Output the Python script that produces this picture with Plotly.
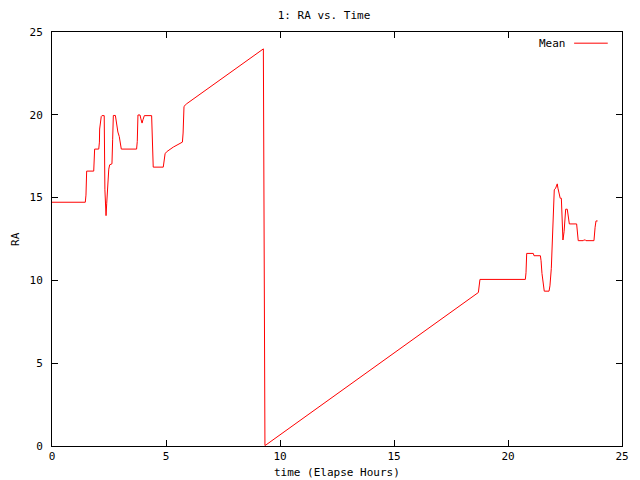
import plotly.graph_objs as go

# tiempo transcurrido (horas) y RA medio
time_h = [0.0, 1.46, 1.49, 1.52, 1.83, 1.84, 1.87, 2.05, 2.08, 2.09, 2.12, 2.16, 2.19, 2.29,
          2.32, 2.37, 2.40, 2.43, 2.46, 2.49, 2.53, 2.63, 2.66, 2.69, 2.78, 2.81, 2.85, 2.89,
          2.95, 3.00, 3.04, 3.71, 3.74, 3.77, 3.86, 3.90, 3.95, 3.99, 4.05, 4.37, 4.40, 4.44,
          4.88, 4.91, 4.96, 5.03, 5.32, 5.72, 5.75, 5.79, 5.91, 9.27, 9.28, 9.31, 9.34,
          9.39, 18.70, 18.77, 20.76, 20.79, 20.82, 21.11, 21.14, 21.42, 21.45, 21.49,
          21.54, 21.59, 21.80, 21.84, 21.90, 21.96, 22.00, 22.03, 22.09, 22.14, 22.16, 22.19,
          22.24, 22.29, 22.34, 22.38, 22.41, 22.46, 22.49, 22.53, 22.60, 22.64, 22.69, 23.01,
          23.04, 23.08, 23.30, 23.32, 23.40, 23.42, 23.77, 23.78, 23.82, 23.86, 23.93]
ra_mean = [14.72, 14.72, 15.15, 16.6, 16.6, 17.22, 17.93, 17.93, 18.35, 19.14, 19.7, 19.9, 19.95, 19.95,
           15.47, 13.91, 14.66, 15.4, 16.07, 16.72, 16.98, 17.04, 18.49, 19.96, 19.96, 19.7, 19.2, 18.96,
           18.69, 18.23, 17.93, 17.93, 18.39, 19.99, 19.99, 19.75, 19.5, 19.7, 19.95, 19.95, 17.59, 16.84,
           16.84, 17.08, 17.65, 17.77, 18.05, 18.35, 18.9, 20.51, 20.67, 23.98, 18.05, 6.08, 0.03,
           0.07, 9.27, 10.06, 10.06, 10.46, 11.63, 11.63, 11.49, 11.49, 11.19, 10.42,
           9.88, 9.35, 9.35, 9.67, 10.73, 12.58, 14.5, 15.47, 15.57, 15.71, 15.83, 15.57,
           15.16, 14.96, 14.96, 13.05, 12.44, 12.94, 13.81, 14.3, 14.3, 13.95, 13.41, 13.41,
           13.09, 12.4, 12.4, 12.44, 12.44, 12.4, 12.4, 12.64, 13.21, 13.59, 13.59]

fuente = dict(family='DejaVu Sans Mono', size=11, color='black')

fig = go.Figure()
fig.add_trace(go.Scatter(x=time_h, y=ra_mean, mode='lines', name='Mean',
                         line=dict(color='red', width=1), showlegend=False))

# ejes estilo gnuplot: marco completo con ticks hacia dentro
ejes = dict(showline=True, linecolor='black', linewidth=1, mirror='ticks', ticks='inside',
            ticklen=6, tickcolor='black', showgrid=False, zeroline=False, dtick=5,
            tickfont=fuente, automargin=False)
fig.update_xaxes(range=[0, 25], ticklabelstandoff=0, **ejes)
fig.update_yaxes(range=[0, 25], ticklabelstandoff=6, **ejes)

# titulos de ejes como anotaciones para fijar su posicion
fig.add_annotation(x=0.5, y=-0.063, xref='paper', yref='paper', text='time (Elapse Hours)',
                   showarrow=False, xanchor='center', yanchor='middle', font=fuente)
fig.add_annotation(x=-0.065, y=0.5, xref='paper', yref='paper', text='RA', textangle=-90,
                   showarrow=False, xanchor='center', yanchor='middle', font=fuente)

# leyenda a mano: texto a la izquierda de la muestra, como en gnuplot
fig.add_annotation(x=0.905, y=0.973, xref='paper', yref='paper', text='Mean',
                   showarrow=False, xanchor='right', yanchor='middle', font=fuente)
fig.add_shape(type='line', xref='paper', yref='paper', x0=0.916, x1=0.975, y0=0.973, y1=0.973,
              line=dict(color='red', width=1))

# el navegador deja 8px de margen en el body, por eso 632x472
fig.update_layout(width=632, height=472, plot_bgcolor='white', paper_bgcolor='white',
                  margin=dict(l=44, r=18, t=24, b=34),
                  title=dict(text='1: RA vs. Time', font=fuente, x=0.5, xanchor='center',
                             y=0.985, yanchor='middle'))

fig.write_html("out.html")
